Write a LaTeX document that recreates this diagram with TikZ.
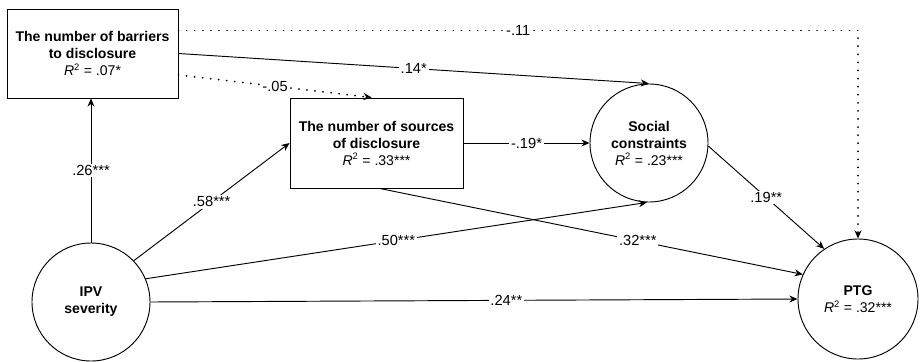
\documentclass[tikz,border=0pt]{standalone}
\usepackage{fontspec}
\setmainfont{Liberation Sans}
\usetikzlibrary{arrows.meta, calc}

\begin{document}
\begin{tikzpicture}[
            x=0.03cm, y=-0.03cm,
            >={Stealth[length=7pt, width=6pt]},
            effect/.style={->, line width=0.8pt},
            nseffect/.style={->, line width=1.6pt, dash pattern=on 0.1pt off 6.8pt, line cap=round},
            coef/.style={fill=white, inner sep=1.5pt, font=\fontsize{12.5}{14.5}\selectfont},
            varbox/.style={draw, line width=0.8pt, align=center, font=\fontsize{12}{14.5}\selectfont},
            varcirc/.style={draw, circle, line width=0.8pt, align=center, inner sep=0pt, font=\fontsize{12}{14.5}\selectfont}
        ]
        \useasboundingbox (0,0) rectangle (922,361);

        % 1. Observed variables (boxes)
        \node[varbox, minimum width=5.13cm, minimum height=2.67cm] (bar) at (92.5, 53.5)
            {\textbf{The number of barriers}\\ \textbf{to disclosure}\\ \textit{R}\textsuperscript{2} = .07*};
        \node[varbox, minimum width=5.19cm, minimum height=2.7cm] (src) at (376.5, 143)
            {\textbf{The number of sources}\\ \textbf{of disclosure}\\ \textit{R}\textsuperscript{2} = .33***};

        % 2. Circles
        \node[varcirc, minimum size=3.54cm] (ipv) at (91, 302) {\textbf{IPV}\\ \textbf{severity}};
        \node[varcirc, minimum size=3.54cm] (soc) at (649, 143)
            {\textbf{Social}\\ \textbf{constraints}\\ \textit{R}\textsuperscript{2} = .23***};
        \node[varcirc, minimum size=3.6cm] (ptg) at (858, 299)
            {\textbf{PTG}\\ \textit{R}\textsuperscript{2} = .32***};

        % --- Paths from IPV severity ---
        \draw[effect] (ipv.north) -- (ipv.north |- bar.south) node[coef, midway] {.26***};
        \draw[effect] (ipv.44) -- (src.west) node[coef, midway] {.58***};
        \draw[effect] (ipv.23) -- (soc.268) node[coef, midway] {.50***};
        \draw[effect] (ipv.east) -- (ptg.west) node[coef, pos=0.55] {.24**};

        % --- Paths from barriers ---
        \draw[effect] (bar.east) -- (soc.north) node[coef, midway] {.14*};
        \draw[nseffect] (bar.-14) -- (src.96) node[coef, midway] {-.05};
        \draw[nseffect] (bar.15) -| (ptg.north) node[coef, pos=0.25] {-.11};

        % --- Paths from sources and constraints ---
        \draw[effect] (src.east) -- (soc.west) node[coef, midway] {-.19*};
        \draw[effect] (src.-86) -- (ptg.156) node[coef, pos=0.61] {.32***};
        \draw[effect] (soc.-3) -- (ptg.124) node[coef, midway] {.19**};

\end{tikzpicture}
\end{document}
